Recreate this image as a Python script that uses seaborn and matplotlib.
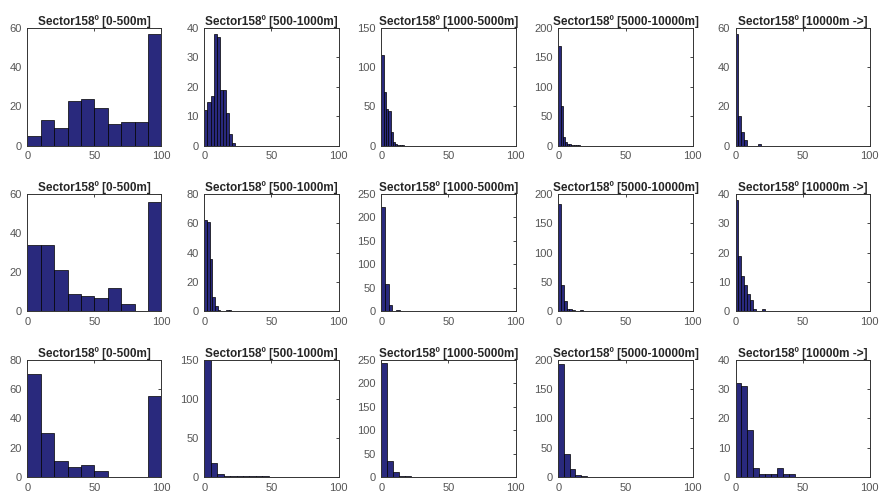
import numpy as np
import pandas as pd
import matplotlib
matplotlib.use("Agg")
import matplotlib.pyplot as plt
import seaborn as sns

# Column titles (distance ranges)
titles = ["Sector158º [0-500m]", "Sector158º [500-1000m]", "Sector158º [1000-5000m]",
          "Sector158º [5000-10000m]", "Sector158º [10000m ->]"]

# Bin widths (10 bins starting at 0)
widths_row1 = [10, 2.3, 1.7, 1.6, 2.1]
widths_row2 = [10, 2.0, 2.7, 2.0, 2.2]
widths_row3 = [10, 4.8, 4.4, 4.2, 4.45]

# Bar heights (counts) per panel
counts_row1 = [
    [5, 13, 9, 23, 24, 19, 11, 12, 12, 57],
    [12, 15, 17, 38, 37, 19, 19, 11, 4, 1],
    [116, 68, 47, 44, 17, 5, 2, 1, 1, 1],
    [170, 68, 15, 6, 3, 2, 1, 1, 1, 1],
    [57, 15, 7, 3, 0, 0, 0, 0, 1, 0],
]
counts_row2 = [
    [34, 34, 21, 9, 8, 7, 12, 4, 0, 56],
    [62, 61, 36, 10, 4, 1, 0, 0, 1, 1],
    [222, 58, 14, 2, 3, 1, 1, 1, 1, 2],
    [182, 45, 18, 5, 4, 2, 1, 1, 3, 1],
    [38, 19, 12, 9, 6, 4, 1, 0, 0, 1],
]
counts_row3 = [
    [70, 30, 11, 7, 8, 4, 0, 0, 0, 55],
    [150, 18, 4, 1, 1, 1, 1, 1, 1, 1],
    [243, 35, 12, 2, 2, 1, 1, 1, 1, 1],
    [193, 40, 14, 4, 2, 1, 1, 1, 1, 1],
    [32, 31, 16, 3, 1, 1, 1, 3, 1, 1],
]

# y-axis limits and tick steps per panel
ymax = [[60, 40, 150, 200, 60], [60, 80, 250, 200, 40], [80, 150, 250, 200, 40]]
ystep = [[20, 10, 50, 50, 20], [20, 20, 50, 50, 10], [20, 50, 50, 50, 10]]

sns.set_style("white")
plt.rcParams['font.family'] = ['Liberation Sans', 'DejaVu Sans']

fig, axes = plt.subplots(3, 5, figsize=(8.82, 4.93), dpi=100)
fig.subplots_adjust(left=0.031, right=0.986, top=0.943, bottom=0.032, wspace=0.32, hspace=0.41)

all_counts = [counts_row1, counts_row2, counts_row3]
all_widths = [widths_row1, widths_row2, widths_row3]

for r in range(3):
    for c in range(5):
        ax = axes[r, c]
        w = all_widths[r][c]
        edges = [i * w for i in range(11)]
        # expand bin counts back into samples at bin centres
        centers = np.array(edges[:-1]) + w / 2
        df = pd.DataFrame({"x": np.repeat(centers, all_counts[r][c])})
        sns.histplot(data=df, x="x", bins=edges, ax=ax,
                     color="#29297d", edgecolor="black", linewidth=0.5, alpha=1)
        ax.set_xlim(0, 100)
        ax.set_ylim(0, ymax[r][c])
        ax.set_xticks([0, 50, 100])
        ax.set_yticks(np.arange(0, ymax[r][c] + 1, ystep[r][c]))
        ax.set_xlabel("")
        ax.set_ylabel("")
        ax.set_title(titles[c], fontsize=8.5, fontweight="bold", pad=2)
        ax.tick_params(direction="in", length=2, width=0.6, labelsize=8,
                       labelcolor="#555555", top=True, right=True, pad=4)
        for s in ax.spines.values():
            s.set_color("#333333")
            s.set_linewidth(0.7)

fig.savefig("out.png", dpi=100)
